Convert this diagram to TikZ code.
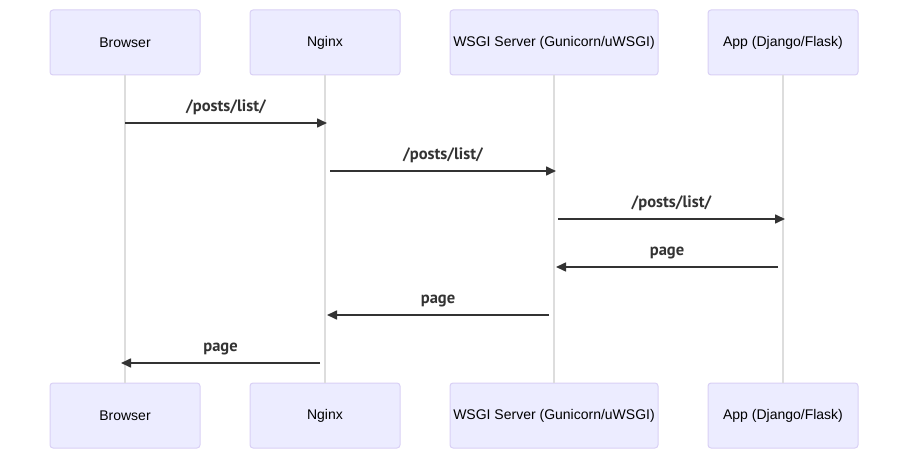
\documentclass[tikz,border=0pt]{standalone}
\usepackage{fontspec}
\setmainfont{Liberation Sans}
\newfontfamily\msgfont{PT Sans}
\usetikzlibrary{arrows.meta}
\definecolor{actorfill}{HTML}{ECECFF}
\definecolor{actorline}{HTML}{D9D0F5}
\definecolor{lifegray}{HTML}{DDDDDD}
\definecolor{msggray}{HTML}{333333}

\begin{document}
\begin{tikzpicture}[x=1pt,y=-1pt,
  actor/.style={draw=actorline,fill=actorfill,rounded corners=3pt,line width=1pt,minimum height=65pt,inner sep=0pt,font=\fontsize{14}{16}\selectfont},
  life/.style={draw=lifegray,line width=1.5pt},
  msg/.style={draw=msggray,line width=1.6pt,-{Triangle[length=10pt,width=9pt]}},
  msglabel/.style={font=\msgfont\bfseries\fontsize{16.5}{19}\selectfont,text=msggray}]
\useasboundingbox (0,0) rectangle (908,449);

% participants, top and bottom
\node[actor,minimum width=150pt] (browserT) at (125,42.5) {Browser};
\node[actor,minimum width=150pt] (nginxT) at (325,42.5) {Nginx};
\node[actor,minimum width=208pt] (wsgiT) at (554,42.5) {WSGI Server (Gunicorn/uWSGI)};
\node[actor,minimum width=150pt] (appT) at (783,42.5) {App (Django/Flask)};
\node[actor,minimum width=150pt] (browserB) at (125,415.5) {Browser};
\node[actor,minimum width=150pt] (nginxB) at (325,415.5) {Nginx};
\node[actor,minimum width=208pt] (wsgiB) at (554,415.5) {WSGI Server (Gunicorn/uWSGI)};
\node[actor,minimum width=150pt] (appB) at (783,415.5) {App (Django/Flask)};

% lifelines
\draw[life] (browserT) -- (browserB);
\draw[life] (nginxT) -- (nginxB);
\draw[life] (wsgiT) -- (wsgiB);
\draw[life] (appT) -- (appB);

% message ends
\coordinate (m1a) at (125,123); \coordinate (m1b) at (327,123);
\coordinate (m2a) at (330,171); \coordinate (m2b) at (556,171);
\coordinate (m3a) at (558,219); \coordinate (m3b) at (785,219);
\coordinate (m4a) at (778,267); \coordinate (m4b) at (556,267);
\coordinate (m5a) at (549,315); \coordinate (m5b) at (327,315);
\coordinate (m6a) at (320,363); \coordinate (m6b) at (121,363);

% messages
\draw[msg] (m1a) -- node[msglabel,above=4pt] {/posts/list/} (m1b);
\draw[msg] (m2a) -- node[msglabel,above=4pt] {/posts/list/} (m2b);
\draw[msg] (m3a) -- node[msglabel,above=4pt] {/posts/list/} (m3b);
\draw[msg] (m4a) -- node[msglabel,above=4pt] {page} (m4b);
\draw[msg] (m5a) -- node[msglabel,above=4pt] {page} (m5b);
\draw[msg] (m6a) -- node[msglabel,above=4pt] {page} (m6b);
\end{tikzpicture}
\end{document}
